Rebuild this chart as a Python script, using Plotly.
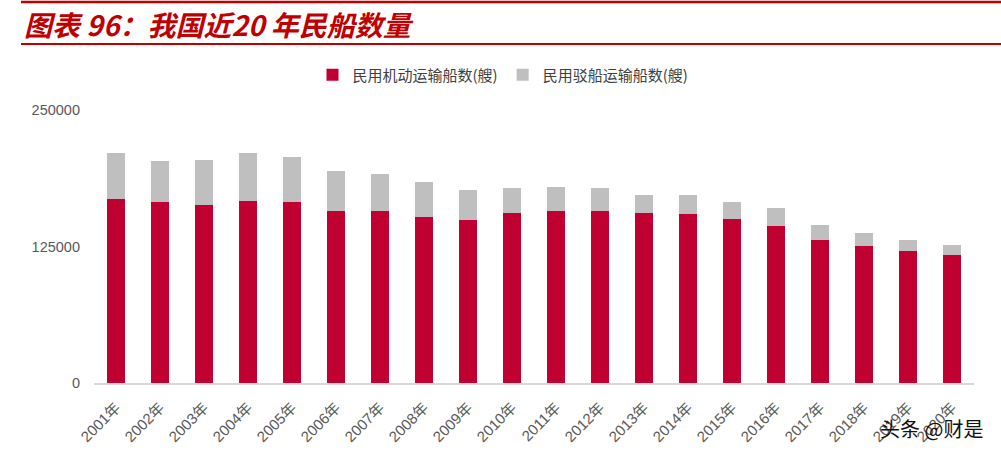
import plotly.graph_objects as go

years = [f"{y}年" for y in range(2001, 2021)]
motor = [168800, 165500, 163400, 166400, 165500, 157900, 157900, 152400, 149100, 155500,
         157600, 157600, 155500, 154600, 150000, 144200, 131400, 125300, 121300, 117300]
barge = [42100, 37500, 41100, 44500, 41500, 36300, 33800, 31400, 27700, 22800,
         21700, 20700, 16400, 17300, 15500, 15800, 13400, 11900, 10100, 9200]
series_names = ["民用机动运输船数(艘)", "民用驳船运输船数(艘)"]
y_ticks = [0, 125000, 250000]

RED = "#C00030"
GREY = "#BFBFBF"
TITLE_RED = "#C00000"

W, H = 1001, 453
PL, PR, PT, PB = 94, 974, 110, 383          # plot area in screen px
L, R, T, B = PL, W - PR, PT, H - PB
PW, PH = PR - PL, PB - PT


def px(xs):
    return (xs - PL) / PW


def py(ys):
    return (PB - ys) / PH


fig = go.Figure()
fig.add_trace(go.Bar(x=years, y=motor, name=series_names[0], marker_color=RED,
                     marker_line_width=0))
fig.add_trace(go.Bar(x=years, y=barge, name=series_names[1], marker_color=GREY,
                     marker_line_width=0))

fig.update_layout(
    width=W, height=H,
    margin=dict(l=L, r=R, t=T, b=B, autoexpand=False),
    barmode="stack", bargap=0.6,
    paper_bgcolor="white", plot_bgcolor="white",
    font=dict(family="Noto Sans CJK SC, Liberation Sans, Arial", color="#595959"),
    legend=dict(orientation="h", xref="container", yref="container",
                x=503 / W, xanchor="center", y=1 - 75 / H, yanchor="middle",
                font=dict(size=15, color="#404040", family="Noto Sans CJK SC"),
                itemwidth=30, traceorder="normal", tracegroupgap=0),
    xaxis=dict(showgrid=False, showline=True, linecolor="#D9D9D9", linewidth=2,
               tickangle=-45, automargin=False, ticklabelstandoff=8,
               tickfont=dict(size=15, color="#595959",
                             family="Liberation Sans, Noto Sans CJK SC"),
               ticks=""),
    yaxis=dict(range=[0, 250000], tickvals=y_ticks, ticktext=[str(v) for v in y_ticks],
               showgrid=False, zeroline=False, showline=False, automargin=False,
               tickfont=dict(size=14.5, color="#595959", family="Liberation Sans"),
               ticks="", ticklabelstandoff=13),
)

# title lines
for ys, wdt in ((2, 2.5), (44, 2)):
    fig.add_shape(type="line", xref="paper", yref="paper",
                  x0=px(21), x1=px(1010), y0=py(ys), y1=py(ys),
                  line=dict(color=TITLE_RED, width=wdt))

fig.add_annotation(text="<b><i>图表 96：我国近20 年民船数量</i></b>", xref="paper", yref="paper",
                   x=px(22), xanchor="left",
                   y=py(24), yanchor="middle", showarrow=False,
                   font=dict(size=28, color=TITLE_RED, family="Noto Sans CJK SC"))

fig.add_annotation(text="头条 @财是", xref="paper", yref="paper",
                   x=px(985), xanchor="right",
                   y=py(428), yanchor="middle", showarrow=False,
                   font=dict(size=20, color="#111111", family="Noto Sans CJK SC"))

fig.write_html("out.html", config={"displayModeBar": False},
               post_script="document.body.style.margin='0';document.body.style.overflow='hidden';")
